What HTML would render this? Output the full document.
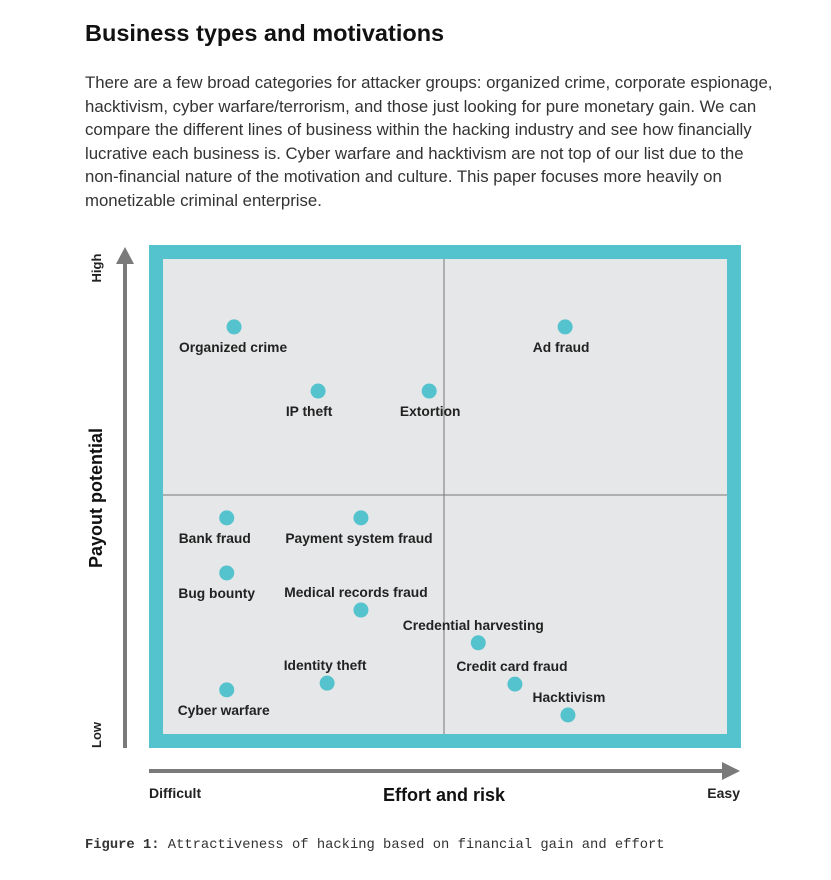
<!DOCTYPE html>
<html><head><meta charset="utf-8"><style>
body{margin:0;background:#fff;width:831px;height:880px;overflow:hidden;font-family:"Liberation Sans",sans-serif;color:#222}
h1{position:absolute;left:85px;top:20px;margin:0;font-size:23.5px;font-weight:bold;color:#111;letter-spacing:0px}
p{position:absolute;left:85px;top:71px;margin:0;font-size:16.8px;line-height:23.5px;color:#333;width:740px;white-space:nowrap}
svg{position:absolute;left:0;top:0}
.cap{position:absolute;left:85px;top:838px;font-family:"Liberation Mono",monospace;font-size:13.8px;color:#333}
</style></head><body>
<h1>Business types and motivations</h1>
<p>There are a few broad categories for attacker groups: organized crime, corporate espionage,<br>hacktivism, cyber warfare/terrorism, and those just looking for pure monetary gain. We can<br>compare the different lines of business within the hacking industry and see how financially<br>lucrative each business is. Cyber warfare and hacktivism are not top of our list due to the<br>non-financial nature of the motivation and culture. This paper focuses more heavily on<br>monetizable criminal enterprise.</p>
<svg id="chart" width="831" height="880">
<rect x="156" y="252" width="578" height="489" fill="#e6e7e8" stroke="#54c3ce" stroke-width="14"/>
<line x1="444" y1="259" x2="444" y2="734" stroke="#777" stroke-width="1"/>
<line x1="163" y1="495" x2="727" y2="495" stroke="#777" stroke-width="1"/>
<line x1="125" y1="262" x2="125" y2="748" stroke="#7a7a7a" stroke-width="4"/>
<polygon points="116,264 134,264 125,247" fill="#7a7a7a"/>
<line x1="149" y1="771" x2="724" y2="771" stroke="#7a7a7a" stroke-width="4"/>
<polygon points="722,762 722,780 740,771" fill="#7a7a7a"/>
<text x="101" y="268" transform="rotate(-90 101 268)" text-anchor="middle" font-size="13" font-weight="bold" fill="#222">High</text>
<text x="101" y="735" transform="rotate(-90 101 735)" text-anchor="middle" font-size="13" font-weight="bold" fill="#222">Low</text>
<text x="102" y="498" transform="rotate(-90 102 498)" text-anchor="middle" font-size="18" font-weight="bold" fill="#111">Payout potential</text>
<text x="149" y="798" font-size="14" font-weight="bold" fill="#222">Difficult</text>
<text x="444" y="801" text-anchor="middle" font-size="18" font-weight="bold" fill="#111">Effort and risk</text>
<text x="740" y="798" text-anchor="end" font-size="14" font-weight="bold" fill="#222">Easy</text>
<g id="points"></g>
</svg>
<div class="cap"><b>Figure 1:</b> Attractiveness of hacking based on financial gain and effort</div>
<script>
const names=["Organized crime","IP theft","Extortion","Ad fraud","Bank fraud","Payment system fraud","Bug bounty","Medical records fraud","Credential harvesting","Identity theft","Credit card fraud","Hacktivism","Cyber warfare"];
const effort=[12.6,27.5,47.2,71.3,11.3,35.1,11.3,35.1,55.9,29.1,62.4,71.8,11.3];
const payout=[85.7,72.2,72.2,85.7,45.5,45.5,33.9,26.1,19.2,10.7,10.5,4.0,9.3];
const labelBelow=[1,1,1,1,1,1,1,0,0,0,0,0,1];
const labelShift=[-1,-9,1,-4,-12,-2,-10,-5,-5,-2,-3,1,-3];
const X=v=>163+v*5.64, Y=v=>734-v*4.75;
const g=document.getElementById('points'),NS='http://www.w3.org/2000/svg';
names.forEach((n,i)=>{
 const cx=X(effort[i]),cy=Y(payout[i]);
 const c=document.createElementNS(NS,'circle');
 c.setAttribute('cx',cx);c.setAttribute('cy',cy);c.setAttribute('r',7.5);c.setAttribute('fill','#54c3ce');
 
 
 g.appendChild(c);
 const t=document.createElementNS(NS,'text');
 t.setAttribute('x',cx+labelShift[i]);t.setAttribute('y',labelBelow[i]?cy+25:cy-13);
 t.setAttribute('text-anchor','middle');t.setAttribute('font-size','13.8');t.setAttribute('font-weight','bold');t.setAttribute('fill','#222');
 t.textContent=n;
 
 
 g.appendChild(t);
});
</script>
</body></html>
